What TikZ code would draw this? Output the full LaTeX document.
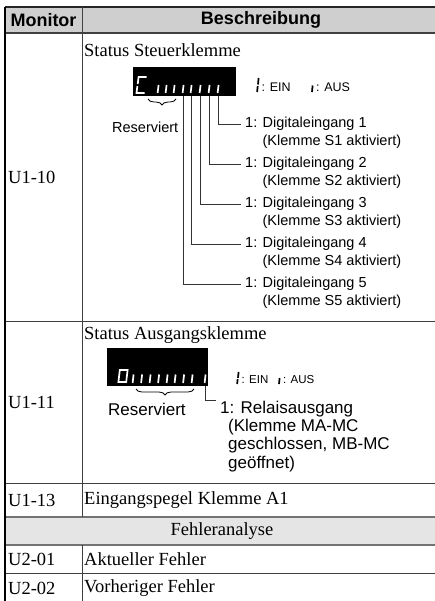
\documentclass[tikz,border=0pt]{standalone}
\usepackage{fontspec}
\setmainfont{Liberation Serif}
\setsansfont{Liberation Sans}
\usetikzlibrary{positioning,calc,decorations.pathreplacing}

\tikzset{
  cell/.style={font=\fontsize{18.5}{21}\selectfont, anchor=west, inner sep=0pt},
  head/.style={font=\sffamily\bfseries\fontsize{18}{21}\selectfont, inner sep=0pt},
  lbl/.style={font=\sffamily\fontsize{14.5}{18}\selectfont, anchor=west, inner ysep=0pt, inner xsep=4pt},
  biglbl/.style={lbl, font=\sffamily\fontsize{17}{18.3}\selectfont},
  legend/.style={font=\sffamily\fontsize{12.5}{14}\selectfont, anchor=west, inner sep=0pt},
  seg/.style={white, line width=1.7pt},
  dseg/.style={black, line width=1.7pt},
  rule/.style={black!75, line width=0.9pt},
  lead/.style={black!80, line width=0.9pt},
  brace/.style={decorate, decoration={brace, mirror, amplitude=6pt}, line width=0.8pt},
  screen/.style={fill=black, anchor=north west, inner sep=0pt},
}

\begin{document}
\begin{tikzpicture}[x=1pt,y=-1pt]
\useasboundingbox (0,0) rectangle (435,601);
% backgrounds
\fill[black!19] (5,7) rectangle (440,33);
\fill[black!10] (5,517) rectangle (440,545);
% grid
\draw[line width=1.8pt, black!85] (5,7) -- (440,7);
\draw[line width=1.8pt, black!75] (5,33) -- (440,33);
\foreach \y in {321,483,573} \draw[rule] (5,\y) -- (440,\y);
\draw[line width=1.3pt, black!55] (5,517) -- (440,517) (5,545) -- (440,545);
\draw[line width=1.3pt] (5,7) -- (5,601);
\draw[rule] (82,7) -- (82,517) (82,545) -- (82,601);

% header
\node[head] (hmon) at (43.5,20) {Monitor};
\node[head] (hbes) at (261,20) {Beschreibung};

% first column
\node[cell] (u110) at (8,177) {U1-10};
\node[cell] (u111) at (8,402) {U1-11};
\node[cell] (u113) at (8,500) {U1-13};
\node[cell] (u201) at (8,559) {U2-01};
\node[cell] (u202) at (8,588) {U2-02};

% U1-10
\node[cell] (st1) at (84,50) {Status Steuerklemme};
\node[screen, minimum width=103pt, minimum height=29pt] (disp1) at (133,67) {};
\draw[seg] (146.5,77) -- (138.6,77) -- (137.7,84) (137.4,86) -- (136.5,93) -- (144.5,93);
\foreach \x [count=\i] in {158,166,174,183,191,200,209,218} {
  \draw[seg] (\x+0.6,85) -- (\x-0.4,93);
  \coordinate (t\i) at (\x,96);
}
\draw[brace] (148,99) -- (176,99);
\node[lbl, inner xsep=0pt] (res1) at (112,127) {Reserviert};
\draw[dseg] (258.6,78) -- (258,84.5) (257.7,86) -- (257.1,92);
\node[legend] (ein1) at (261.5,87) {: EIN};
\draw[dseg] (312.6,85.5) -- (312,92);
\node[legend] (aus1) at (316,87) {: AUS};
\foreach \k/\t in {1/8,2/7,3/6,4/5,5/4} {
  \pgfmathsetmacro\yy{124+40*(\k-1)}
  \node[lbl] (d\k) at (241,\yy) {1: Digitaleingang \k};
  \node[lbl, anchor=base west] (k\k) at ($(d\k.base west)+(0,18)$) {\hphantom{1: }(Klemme S\k\ aktiviert)};
  \draw[lead] (t\t) |- (d\k.west);
}

% U1-11
\node[cell] (st2) at (84,335) {Status Ausgangsklemme};
\node[screen, minimum width=101pt, minimum height=38pt] (disp2) at (107,348) {};
\draw[seg] (119.8,370) -- (127.6,370) -- (126.2,382) -- (118.4,382) -- cycle;
\foreach \x [count=\i] in {133,141.5,150,158.5,167,175,183.5,192,205} {
  \draw[seg] (\x+0.6,374.5) -- (\x-0.4,383);
  \coordinate (s\i) at (\x,386);
}
\draw[brace] (136,389) -- (194,389);
\node[biglbl, inner xsep=0pt] (res2) at (108,409) {Reserviert};
\draw[dseg] (238.6,372) -- (238,377.8) (237.7,379.2) -- (237.1,384);
\node[legend, font=\sffamily\fontsize{11.5}{14}\selectfont] (ein2) at (241.5,380) {: EIN};
\draw[dseg] (279.6,378) -- (279,384);
\node[legend, font=\sffamily\fontsize{11.5}{14}\selectfont] (aus2) at (283,380) {: AUS};
\node[biglbl] (rel) at (216,409) {1: Relaisausgang};
\node[biglbl, anchor=base west] (rel1) at ($(rel.base west)+(8,18.2)$) {(Klemme MA-MC};
\node[biglbl, anchor=base west] (rel2) at ($(rel1.base west)+(0,18.2)$) {geschlossen, MB-MC};
\node[biglbl, anchor=base west] (rel3) at ($(rel2.base west)+(0,18.2)$) {geöffnet)};
\draw[lead] (s9) |- ([yshift=9pt]rel.west);

% remaining rows
\node[cell] (ein) at (84,500) {Eingangspegel Klemme A1};
\node[cell, anchor=center] (fa) at (222,531) {Fehleranalyse};
\node[cell] (akt) at (84,559) {Aktueller Fehler};
\node[cell] (vor) at (84,588) {Vorheriger Fehler};
\end{tikzpicture}
\end{document}
